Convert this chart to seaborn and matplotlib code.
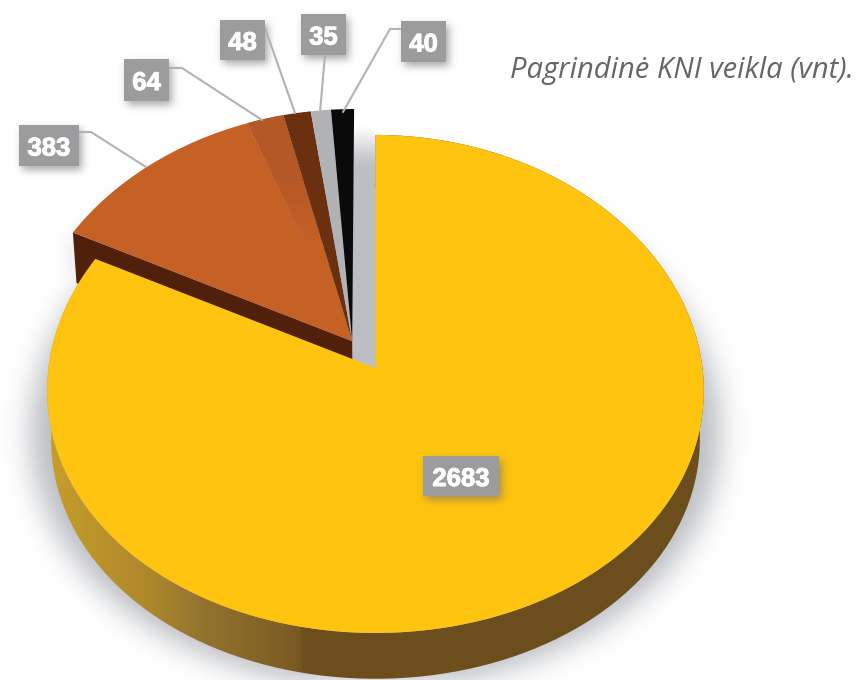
import numpy as np
import seaborn as sns
import matplotlib.pyplot as plt
import matplotlib.patheffects as pe
from matplotlib.colors import LinearSegmentedColormap, to_rgb
from matplotlib.patches import PathPatch, Rectangle
from matplotlib.path import Path
from matplotlib.transforms import Transform

# data
values = [2683, 383, 64, 48, 35, 40]
value_labels = ['2683', '383', '64', '48', '35', '40']
slice_colors = ['#FFC40F', '#C66126', '#B55A26', '#6A3010', '#B0B2B6', '#0A0A0A']
title_text = 'Pagrindinė KNI veikla (vnt).'

W, H = 856, 680

# label boxes: left, top, right, bottom in pixels
boxes = [(423, 456, 499, 496), (19, 125, 79, 166), (124, 59, 169, 101),
         (220, 20, 265, 60), (301, 14, 346, 55), (401, 21, 446, 62)]
leaders = [None,
           [(79, 132), (91, 132), (146, 167)],
           [(169, 68), (182, 68), (262, 120)],
           [(265, 28), (295, 113)],
           [(325, 55), (320, 112)],
           [(401, 29), (390, 29), (343, 112)]]

# side wall colours along x
side_stops = [(0, '#CDA42C'), (55, '#C69C2A'), (150, '#AD872C'), (200, '#93742E'),
              (299, '#7A5A22'), (303, '#6C4F1B'), (856, '#6B4E1B')]

APEX_X, APEX_Y = 375.5, 368
RX, RY = 327, 248
PX, PY = 0.09, 0.064
DEPTH, DEPTH_SCALE = 49, 0.988
SHIFT = (-0.072, 0.109)  # small slices pulled out together
SMALL_R = 1.01


class Perspective(Transform):
    """unit pie coordinates -> pixels, tilted disc"""
    input_dims = output_dims = 2

    def __init__(self, drop=0.0, scale=1.0):
        super().__init__()
        self.drop, self.scale = drop, scale

    def transform_non_affine(self, pts):
        pts = np.asarray(pts, dtype=float)
        x, y = pts[:, 0], pts[:, 1]
        sx = APEX_X + self.scale * RX * x / (1 + PX * y)
        sy = APEX_Y - self.scale * RY * y / (1 + PY * y) + self.drop
        return np.column_stack([sx, sy])


def arc(t1, t2, center=(0, 0), r=1.0, n=300):
    t = np.radians(np.linspace(t1, t2, n))
    return np.column_stack([center[0] + r * np.cos(t), center[1] + r * np.sin(t)])


def blur(mask, sigma):
    # padded so the blur does not wrap round the picture
    pad = int(sigma * 5)
    big_mask = np.pad(mask, pad)
    fy = np.fft.fftfreq(big_mask.shape[0])[:, None]
    fx = np.fft.rfftfreq(big_mask.shape[1])[None, :]
    g = np.exp(-2 * (np.pi * sigma) ** 2 * (fx ** 2 + fy ** 2))
    out = np.fft.irfft2(np.fft.rfft2(big_mask) * g, s=big_mask.shape)
    return out[pad:-pad, pad:-pad]


def shadow_rgba(alpha, color):
    img = np.zeros(alpha.shape + (4,))
    img[..., :3] = to_rgb(color)
    img[..., 3] = np.clip(alpha, 0, 1)
    return img


sns.set_style('white')
plt.rcParams['font.family'] = ['Liberation Sans', 'DejaVu Sans']

fig = plt.figure(figsize=(W / 100, H / 100), dpi=100, facecolor='white')
ax = fig.add_axes([0, 0, 1, 1])

palette = sns.color_palette(slice_colors)
wedges, _ = ax.pie(values, colors=palette, startangle=90, counterclock=False, radius=1)

top = Perspective()
low = Perspective(DEPTH, DEPTH_SCALE)

big = wedges[0]
for w in wedges[1:]:
    w.set_center(SHIFT)
    w.set_radius(SMALL_R)
    w.set_zorder(5)
big.set_zorder(7)
for w in wedges:
    w.set_transform(top + ax.transData)
    w.set_linewidth(0)

# soft shadow under the pie
gx, gy = np.meshgrid(np.arange(W) + 0.5, np.arange(H) + 0.5)
grid = np.column_stack([gx.ravel(), gy.ravel()])
disc = Perspective(DEPTH - 8, 1.05).transform_non_affine(arc(0, 360))
orange = wedges[1]
orange_low = np.vstack([[SHIFT], arc(orange.theta1, orange.theta2, SHIFT, SMALL_R)])
orange_low = Perspective(DEPTH - 22, 1.0).transform_non_affine(orange_low)
mask = Path(disc).contains_points(grid) | Path(orange_low).contains_points(grid)
mask = mask.reshape(H, W).astype(float)
ax.imshow(shadow_rgba(blur(mask, 14) * 0.62, '#8F949C'), extent=(0, W, H, 0),
          aspect='auto', zorder=1, interpolation='bilinear')

# rim of the big slice with its horizontal gradient
side_pts = np.vstack([top.transform_non_affine(arc(big.theta1, big.theta2)),
                      low.transform_non_affine(arc(big.theta2, big.theta1))])
side_cmap = LinearSegmentedColormap.from_list(
    'side', [(x / W, c) for x, c in side_stops], N=512)
side_im = ax.imshow(np.linspace(0, 1, W)[None, :], cmap=side_cmap, extent=(0, W, H, 0),
                    aspect='auto', zorder=2, vmin=0, vmax=1)
side_im.set_clip_path(PathPatch(Path(side_pts), transform=ax.transData))

# grey cut wall of the big slice, fading out to the top
wall_top = top.transform_non_affine(np.array([[SHIFT[0], SHIFT[1] + 1.0], [0.0, 1.0]]))
wall_pts = np.array([wall_top[0], wall_top[1], [APEX_X, APEX_Y],
                     [wall_top[0][0] - 2, APEX_Y - 8]])
fade = np.zeros((H, 1, 4))
fade[..., :3] = to_rgb('#BCBEC3')
fade[..., 3] = np.clip((np.arange(H)[:, None] - 125) / 45, 0, 1)
wall_im = ax.imshow(fade, extent=(0, W, H, 0), aspect='auto', zorder=3)
wall_im.set_clip_path(PathPatch(Path(wall_pts), transform=ax.transData))

# dark cut wall below the orange slice
edge = arc(orange.theta2, orange.theta2, SHIFT, SMALL_R, n=1)
cut = np.vstack([top.transform_non_affine(np.array([SHIFT])), top.transform_non_affine(edge),
                 low.transform_non_affine(edge), low.transform_non_affine(np.array([SHIFT]))])
ax.fill(cut[:, 0], cut[:, 1], color='#50200A', lw=0, zorder=4)

# the 64 slice melts into the orange towards the centre
melt = LinearSegmentedColormap.from_list('melt', ['#B35826', '#B35826', '#C66126'])
melt_im = ax.imshow(np.linspace(0, 1, H)[:, None], cmap=melt, extent=(0, W, H, 0), aspect='auto',
                    zorder=5.5, vmin=0.15, vmax=0.36)
melt_im.set_clip_path(wedges[2])

# shadows of the label boxes
box_mask = np.zeros((H, W))
for l, t, r, b in boxes:
    box_mask[t + 4:b + 4, l + 3:r + 3] = 1
ax.imshow(shadow_rgba(blur(box_mask, 4) * 0.6, '#6E6E6E'), extent=(0, W, H, 0),
          aspect='auto', zorder=8, interpolation='bilinear')

for line in leaders:
    if line:
        xs, ys = zip(*line)
        ax.plot(xs, ys, color='#B2B2B2', lw=1.5, zorder=9, solid_joinstyle='miter')

for (l, t, r, b), txt in zip(boxes, value_labels):
    ax.add_patch(Rectangle((l, t), r - l, b - t, facecolor='#9C9C9E', edgecolor='none', zorder=10))
    ax.text((l + r) / 2, (t + b) / 2 + 0.5, txt, color='white', fontsize=18.5, fontweight='bold',
            ha='center', va='center_baseline', zorder=11,
            path_effects=[pe.withStroke(linewidth=0.7, foreground='white')])

ax.text(510, 78, title_text, color='#666666', fontsize=21, fontstyle='italic',
        family=['Open Sans', 'DejaVu Sans'], ha='left', va='baseline', zorder=11)

ax.set_aspect('auto')
ax.set_xlim(0, W)
ax.set_ylim(H, 0)
ax.axis('off')

fig.savefig('out.png', dpi=100)
